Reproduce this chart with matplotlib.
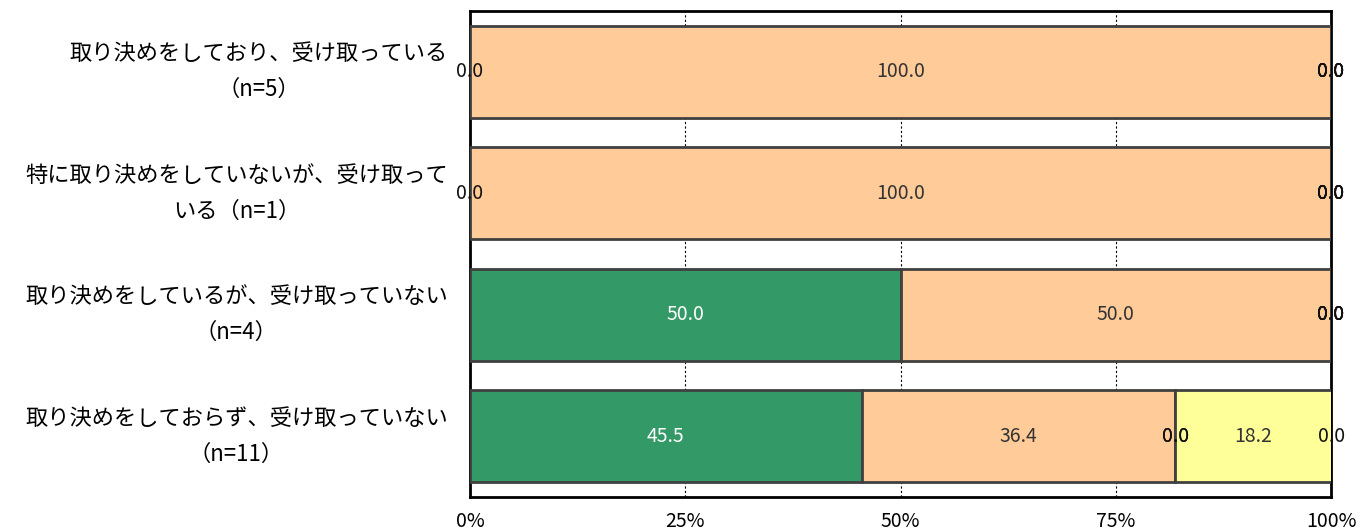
import matplotlib
matplotlib.use("Agg")
import matplotlib.pyplot as plt
import numpy as np

plt.rcParams['font.family'] = ['Noto Sans CJK JP', 'DejaVu Sans']

categories = [
    "取り決めをしており、受け取っている\n（n=5）",
    "特に取り決めをしていないが、受け取って\nいる（n=1）",
    "取り決めをしているが、受け取っていない\n（n=4）",
    "取り決めをしておらず、受け取っていない\n（n=11）",
]
series_names = ["s1", "s2", "s3", "s4", "s5", "s6"]
s1 = [0.0, 0.0, 50.0, 45.5]
s2 = [100.0, 100.0, 50.0, 36.4]
s3 = [0.0, 0.0, 0.0, 0.0]
s4 = [0.0, 0.0, 0.0, 0.0]
s5 = [0.0, 0.0, 0.0, 18.2]
s6 = [0.0, 0.0, 0.0, 0.0]
series = [s1, s2, s3, s4, s5, s6]
colors = ["#339966", "#FFCC99", "#FFFFFF", "#FFFFFF", "#FFFF99", "#FFFFFF"]
text_colors = ["white", "#333333", "#222222", "#222222", "#333333", "#222222"]
xticks = [0, 25, 50, 75, 100]
xticklabels = ["0%", "25%", "50%", "75%", "100%"]

fig = plt.figure(figsize=(13.71, 5.32), dpi=100)
ax = fig.add_axes([470/1371, 1-497/532, (1331-470)/1371, (497-11)/532])

y = np.arange(len(categories))
left = np.zeros(len(categories))
for vals, c, tc in zip(series, colors, text_colors):
    vals = np.array(vals)
    ax.barh(y, vals, left=left, height=0.76, color=c, edgecolor="#404040",
            linewidth=2, zorder=3)
    for yi, (l, v) in enumerate(zip(left, vals)):
        ax.text(l + v/2, yi, f"{v:.1f}", ha="center", va="center",
                fontsize=14, color=(tc if v > 0 else "#111111"), zorder=5)
    left = left + vals

ax.set_xlim(0, 100)
ax.set_ylim(len(categories)-0.5, -0.5)
ax.set_yticks(y)
ax.set_yticklabels(categories, fontsize=16, multialignment="center", linespacing=1.7)
for t in ax.get_yticklabels():
    t.set_va("center")
ax.set_xticks(xticks)
ax.set_xticklabels(xticklabels, fontsize=14)
ax.tick_params(axis="y", length=0, pad=16)
ax.tick_params(axis="x", length=0, pad=10)
ax.xaxis.grid(True, linestyle=(0, (2, 2)), color="black", linewidth=0.8, zorder=0)
ax.set_axisbelow(True)
for sp in ax.spines.values():
    sp.set_linewidth(2)
    sp.set_color("black")

fig.savefig("out.png", dpi=100)
